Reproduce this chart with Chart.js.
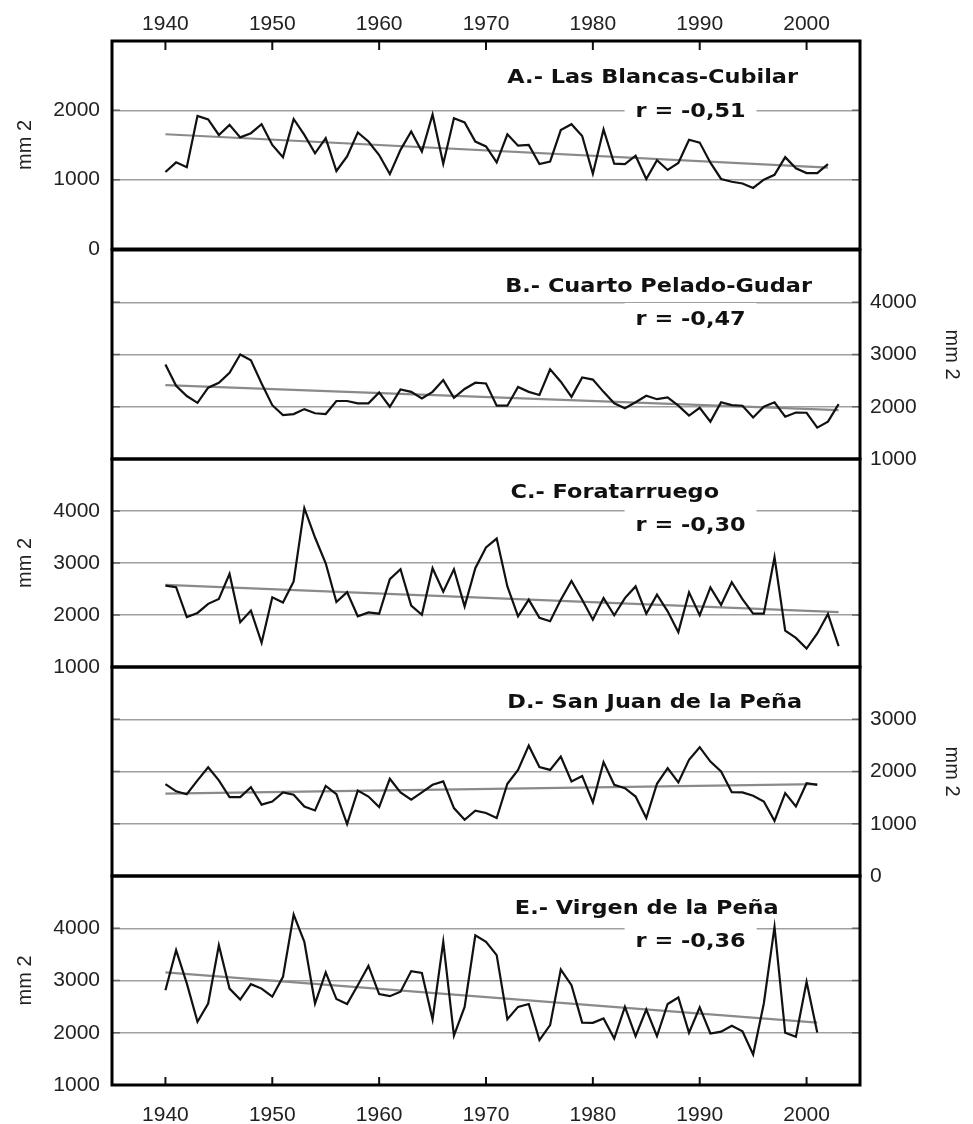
<!DOCTYPE html>
<html lang="es">
<head>
<meta charset="UTF-8">
<title>Series de precipitación</title>
<script src="https://cdn.jsdelivr.net/npm/chart.js"></script>
<style>
  body { margin: 0; background: #fff; }
  #wrap { position: relative; width: 973px; height: 1124px; overflow: hidden; background: #fff; }
  #wrap canvas { position: absolute; left: 0; }
</style>
</head>
<body>
<div id="wrap"></div>
<script>
// years on the x axis
const years = [1940, 1941, 1942, 1943, 1944, 1945, 1946, 1947, 1948, 1949,
  1950, 1951, 1952, 1953, 1954, 1955, 1956, 1957, 1958, 1959,
  1960, 1961, 1962, 1963, 1964, 1965, 1966, 1967, 1968, 1969,
  1970, 1971, 1972, 1973, 1974, 1975, 1976, 1977, 1978, 1979,
  1980, 1981, 1982, 1983, 1984, 1985, 1986, 1987, 1988, 1989,
  1990, 1991, 1992, 1993, 1994, 1995, 1996, 1997, 1998, 1999,
  2000, 2001, 2002, 2003];
const decadeTicks = [1940, 1950, 1960, 1970, 1980, 1990, 2000];

// A.- Las Blancas-Cubilar (1940-2002)
const valsA = [1110, 1250, 1180, 1920, 1870, 1645, 1790, 1610, 1670, 1800,
  1500, 1325, 1875, 1645, 1380, 1600, 1125, 1335, 1680, 1550,
  1355, 1080, 1430, 1695, 1405, 1940, 1230, 1885, 1825, 1550,
  1480, 1250, 1655, 1490, 1500, 1225, 1260, 1715, 1800, 1630,
  1085, 1725, 1230, 1225, 1345, 1010, 1280, 1140, 1240, 1575,
  1535, 1245, 1010, 970, 945, 880, 1000, 1070, 1325, 1165,
  1095, 1095, 1225];
// B.- Cuarto Pelado-Gudar (1940-2003)
const valsB = [2810, 2400, 2205, 2075, 2365, 2460, 2650, 3000, 2890, 2445,
  2030, 1840, 1860, 1955, 1875, 1860, 2110, 2110, 2065, 2065,
  2275, 2000, 2330, 2285, 2160, 2285, 2510, 2170, 2340, 2460,
  2445, 2020, 2020, 2380, 2285, 2225, 2715, 2480, 2190, 2560,
  2520, 2285, 2065, 1970, 2085, 2210, 2145, 2180, 2020, 1830,
  1980, 1715, 2085, 2030, 2020, 1795, 2000, 2085, 1810, 1890,
  1885, 1600, 1715, 2050];
// C.- Foratarruego (1940-2003)
const valsC = [2565, 2535, 1960, 2040, 2215, 2310, 2790, 1860, 2085, 1465,
  2340, 2240, 2645, 4055, 3490, 2995, 2250, 2440, 1975, 2050,
  2025, 2690, 2880, 2180, 2005, 2900, 2450, 2880, 2165, 2900,
  3300, 3470, 2550, 1975, 2295, 1945, 1880, 2295, 2655, 2295,
  1910, 2325, 1995, 2325, 2550, 2025, 2390, 2070, 1670, 2435,
  1995, 2530, 2195, 2630, 2305, 2025, 2025, 3110, 1700, 1560,
  1355, 1645, 2020, 1400];
// D.- San Juan de la Peña (1940-2001)
const valsD = [1760, 1620, 1565, 1830, 2080, 1830, 1510, 1510, 1700, 1365,
  1425, 1600, 1555, 1330, 1255, 1725, 1565, 995, 1635, 1520,
  1320, 1860, 1600, 1460, 1600, 1745, 1810, 1300, 1075, 1250,
  1205, 1110, 1765, 2030, 2495, 2085, 2030, 2285, 1810, 1915,
  1410, 2180, 1745, 1680, 1520, 1110, 1765, 2065, 1790, 2225,
  2465, 2190, 2000, 1605, 1600, 1535, 1425, 1055, 1585, 1330,
  1775, 1745];
// E.- Virgen de la Peña (1940-2001)
const valsE = [2815, 3580, 2945, 2210, 2560, 3675, 2845, 2635, 2930, 2845,
  2690, 3070, 4260, 3740, 2560, 3155, 2645, 2550, 2910, 3280,
  2740, 2700, 2785, 3180, 3145, 2255, 3740, 1945, 2495, 3865,
  3740, 3485, 2260, 2495, 2550, 1860, 2145, 3210, 2910, 2195,
  2190, 2275, 1890, 2495, 1935, 2445, 1935, 2550, 2675, 2000,
  2485, 1985, 2020, 2135, 2030, 1585, 2560, 4025, 2000, 1925,
  2975, 2005];

// regression lines: value at first and at last year of each series
const trendA = [1655, 1175];
const trendB = [2415, 1935];
const trendC = [2580, 2055];
const trendD = [1575, 1760];
const trendE = [3155, 2195];

const titles = ['A.- Las Blancas-Cubilar', 'B.- Cuarto Pelado-Gudar', 'C.- Foratarruego',
  'D.- San Juan de la Peña', 'E.- Virgen de la Peña'];
const rLabels = ['r = -0,51', 'r = -0,47', 'r = -0,30', null, 'r = -0,36'];

const panels = [
  { vals: valsA, trend: trendA, side: 'left',  min: 0,    max: 3000, top: 41,  bottom: 249,  xAxis: 'top',    tx: 1972,   ty: 42, ry: 76 },
  { vals: valsB, trend: trendB, side: 'right', min: 1000, max: 5000, top: 250, bottom: 459,  xAxis: null,     tx: 1971.8, ty: 42, ry: 75 },
  { vals: valsC, trend: trendC, side: 'left',  min: 1000, max: 5000, top: 459, bottom: 667,  xAxis: null,     tx: 1972.3, ty: 39, ry: 72 },
  { vals: valsD, trend: trendD, side: 'right', min: 0,    max: 4000, top: 667, bottom: 876,  xAxis: null,     tx: 1972,   ty: 41, ry: 0 },
  { vals: valsE, trend: trendE, side: 'left',  min: 1000, max: 5000, top: 876, bottom: 1085, xAxis: 'bottom', tx: 1972.7, ty: 38, ry: 71 }
];

const STRETCH = 1.12;
const labelFont = { family: '"Liberation Sans", Arial, sans-serif', size: 21 };
const titleFont = 'bold 20px "DejaVu Sans", Verdana, sans-serif';

function drawStretched(ctx, txt, x, y) {
  ctx.save();
  ctx.translate(x, y);
  ctx.scale(STRETCH, 1);
  ctx.fillText(txt, 0, 0);
  ctx.restore();
}

const panelDeco = {
  id: 'panelDeco',
  beforeDatasetsDraw(chart, args, o) {
    if (!o.r) return;
    const {ctx, chartArea, scales} = chart;
    ctx.save();
    ctx.font = titleFont;
    const w = ctx.measureText(o.r).width * STRETCH;
    const x = scales.x.getPixelForValue(1984);
    const base = chartArea.top + o.ry;
    ctx.fillStyle = '#fff';
    ctx.fillRect(x - 11, base - 22, w + 22, 28);
    ctx.restore();
  },
  afterDatasetsDraw(chart, args, o) {
    const {ctx, chartArea, scales} = chart;
    ctx.save();
    ctx.font = titleFont;
    ctx.fillStyle = '#111';
    ctx.textBaseline = 'alphabetic';
    drawStretched(ctx, o.title, scales.x.getPixelForValue(o.tx), chartArea.top + o.ty);
    if (o.r) drawStretched(ctx, o.r, scales.x.getPixelForValue(1984), chartArea.top + o.ry);
    ctx.restore();
  },
  afterDraw(chart, args, o) {
    const {ctx, chartArea: a, scales} = chart;
    ctx.save();
    // short marks at the grid lines, inside both edges
    ctx.strokeStyle = '#666';
    ctx.lineWidth = 1.5;
    scales.y.ticks.forEach(t => {
      if (t.value === o.min || t.value === o.max) return;
      const py = scales.y.getPixelForValue(t.value);
      ctx.beginPath();
      ctx.moveTo(a.left, py); ctx.lineTo(a.left + 8, py);
      ctx.moveTo(a.right, py); ctx.lineTo(a.right - 8, py);
      ctx.stroke();
    });
    // decade marks on the outer x axes
    if (o.xAxis) {
      ctx.strokeStyle = '#111';
      ctx.lineWidth = 2;
      decadeTicks.forEach(v => {
        const px = scales.x.getPixelForValue(v);
        ctx.beginPath();
        if (o.xAxis === 'top') { ctx.moveTo(px, a.top); ctx.lineTo(px, a.top + 9); }
        else { ctx.moveTo(px, a.bottom); ctx.lineTo(px, a.bottom - 8); }
        ctx.stroke();
      });
    }
    // frame
    ctx.strokeStyle = '#000';
    ctx.lineWidth = 3;
    ctx.strokeRect(a.left, a.top, a.right - a.left, a.bottom - a.top);
    ctx.restore();
  }
};

const wrap = document.getElementById('wrap');

panels.forEach((p, i) => {
  const cTop = p.xAxis === 'top' ? 0 : p.top - 30;
  const cBottom = p.xAxis === 'bottom' ? 1124 : p.bottom + 31;
  const canvas = document.createElement('canvas');
  canvas.width = 973;
  canvas.height = cBottom - cTop;
  canvas.style.top = cTop + 'px';
  wrap.appendChild(canvas);

  const n = p.vals.length;
  const series = p.vals.map((v, k) => ({ x: years[k], y: v }));
  const trend = [{ x: years[0], y: p.trend[0] }, { x: years[n - 1], y: p.trend[1] }];

  new Chart(canvas.getContext('2d'), {
    type: 'line',
    data: {
      datasets: [
        { data: series, borderColor: '#111', borderWidth: 2.2, pointRadius: 0, tension: 0, fill: false },
        { data: trend, borderColor: '#8a8a8a', borderWidth: 2.2, pointRadius: 0, tension: 0, fill: false }
      ]
    },
    options: {
      responsive: false,
      animation: false,
      devicePixelRatio: 1,
      events: [],
      layout: {
        padding: {
          top: p.xAxis === 'top' ? 0 : p.top - cTop,
          bottom: p.xAxis === 'bottom' ? 0 : cBottom - p.bottom,
          left: p.side === 'left' ? 0 : 112,
          right: p.side === 'right' ? 0 : 113
        }
      },
      scales: {
        x: {
          type: 'linear',
          min: 1935,
          max: 2005,
          position: p.xAxis || 'bottom',
          display: !!p.xAxis,
          grid: { display: false, drawTicks: false },
          border: { display: false },
          ticks: {
            autoSkip: false,
            maxRotation: 0,
            padding: p.xAxis === 'top' ? 4 : 18,
            font: labelFont,
            color: '#222',
            callback: v => String(v)
          },
          afterBuildTicks: s => { s.ticks = decadeTicks.map(v => ({ value: v })); },
          afterFit: s => {
            if (p.xAxis) s.height = p.xAxis === 'top' ? p.top - cTop : cBottom - p.bottom;
          }
        },
        y: {
          type: 'linear',
          position: p.side,
          min: p.min,
          max: p.max,
          grid: { color: '#a0a0a0', lineWidth: 1.5, drawTicks: false },
          border: { display: false },
          ticks: {
            stepSize: 1000,
            padding: p.side === 'left' ? 12 : 10,
            font: labelFont,
            color: '#222',
            callback: v => (v === p.max ? '' : String(v))
          },
          title: {
            display: true,
            text: 'mm 2',
            font: { family: labelFont.family, size: 20 },
            color: '#222',
            padding: { top: p.side === 'left' ? 13 : 9, bottom: 0 }
          },
          afterFit: s => { s.width = p.side === 'left' ? 112 : 113; }
        }
      },
      plugins: {
        legend: { display: false },
        tooltip: { enabled: false },
        panelDeco: { title: titles[i], r: rLabels[i], tx: p.tx, ty: p.ty, ry: p.ry, min: p.min, max: p.max, xAxis: p.xAxis }
      }
    },
    plugins: [panelDeco]
  });
});
</script>
</body>
</html>
